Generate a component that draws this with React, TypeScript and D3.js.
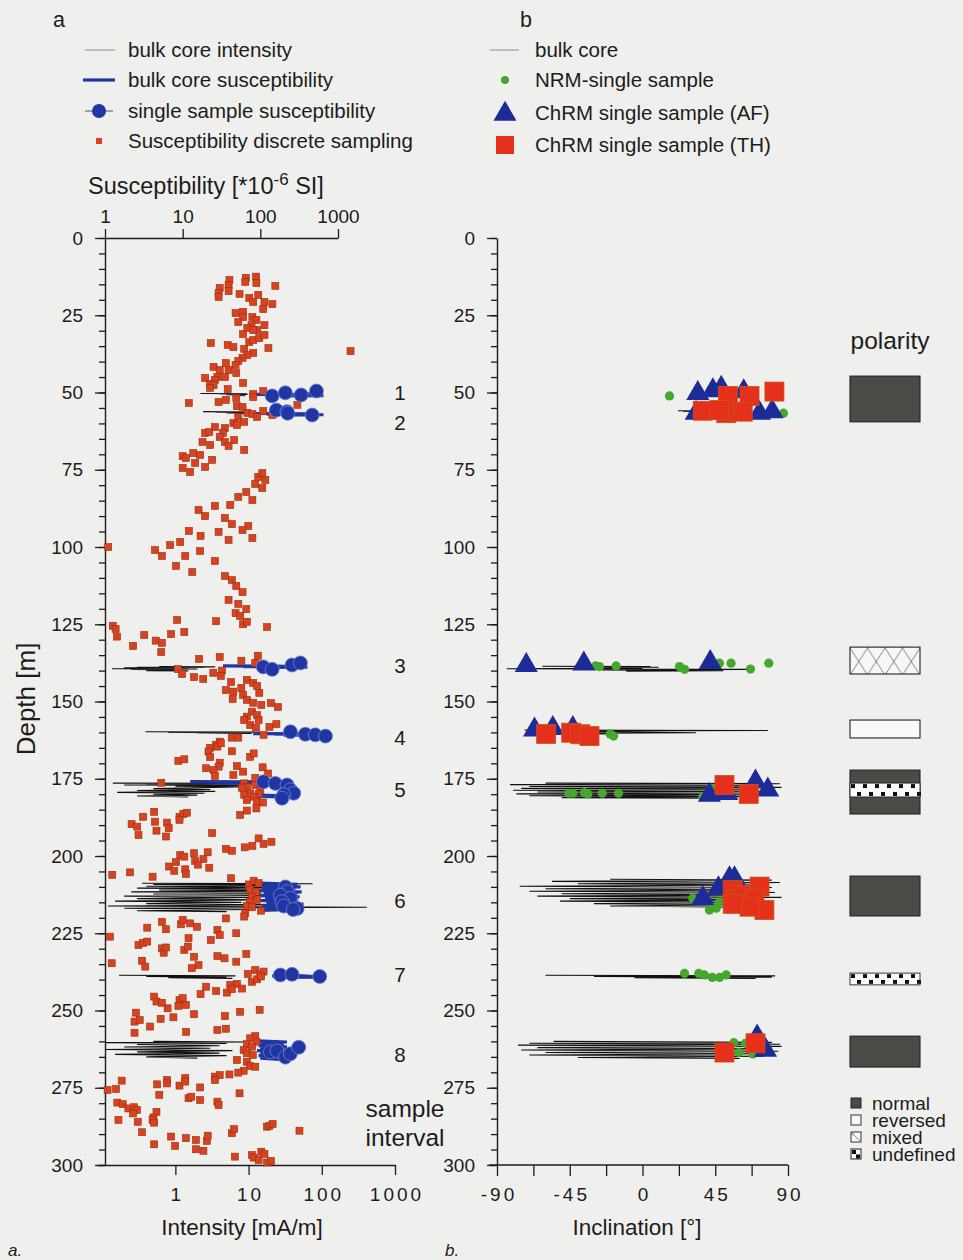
import React, { useEffect, useRef } from 'react';
import * as d3 from 'd3';

const W = 963;
const H = 1260;
const FONT = 'Liberation Sans, Arial, Helvetica, sans-serif';

// ---------- tick labels ----------
const depthMajor = [0, 25, 50, 75, 100, 125, 150, 175, 200, 225, 250, 275, 300];
const depthMinor = d3.range(0, 301, 5);
const suscTicks = [1, 10, 100, 1000];
const intensityTicks = [1, 10, 100, 1000];
const inclTicks = [-90, -67.5, -45, -22.5, 0, 22.5, 45, 67.5, 90];
const inclLabels = [-90, -45, 0, 45, 90];

// ---------- panel a: discrete susceptibility sampling [depth m, susceptibility 1e-6 SI] ----------
const discreteSusc: [number, number][] = [
  [12.5, 88], [12.9, 65], [13.6, 40], [15.2, 39], [16.2, 30], [17.8, 29], [19.1, 29], [17.2, 39], [14.2, 64], [14.6, 89],
  [15.5, 156], [18.1, 54], [19.4, 72], [18.4, 94], [20.7, 81], [20.7, 113], [21.4, 143], [23.0, 109], [24.3, 48], [23.9, 60],
  [25.6, 60], [27.2, 52], [25.6, 79], [26.5, 89], [28.2, 77], [28.2, 113], [29.1, 68], [29.8, 91], [31.1, 60], [29.8, 81],
  [33.7, 72], [33.0, 81], [32.4, 97], [31.4, 113], [34.0, 23], [34.6, 38], [35.3, 45], [35.9, 62], [37.2, 81], [35.6, 127],
  [36.6, 1450], [37.9, 68], [38.8, 59], [39.8, 52], [41.1, 48], [40.5, 36], [41.7, 25], [42.7, 30], [42.7, 39], [43.7, 49],
  [45.0, 35], [45.3, 19.5], [45.0, 28], [46.0, 26], [47.2, 22.6], [47.6, 25], [48.5, 22.6], [46.9, 60], [48.9, 38], [51.8, 49],
  [50.5, 81], [49.5, 109], [53.4, 12], [53.1, 29], [52.4, 36], [54.4, 50], [54.7, 59], [51.5, 81], [54.0, 300], [56.0, 109],
  [56.6, 68], [57.0, 79], [57.9, 91], [57.3, 143], [57.9, 52], [59.5, 62], [59.9, 45], [60.5, 50], [61.2, 26], [61.5, 35],
  [63.1, 19.5], [62.8, 22], [63.1, 33], [64.4, 30], [65.4, 46], [66.0, 35], [66.0, 18], [67.0, 22.6], [67.3, 39], [68.6, 62],
  [69.6, 13.7], [70.6, 10], [70.2, 16.8],
  [71.2, 11], [72.8, 14.5], [74.4, 10], [74.1, 19.5], [71.8, 24], [75.7, 12.5], [77.3, 94], [76.1, 106], [79.6, 86], [78.3, 116],
  [80.9, 106], [82.2, 66], [83.8, 52], [84.8, 79], [86.4, 41], [86.7, 26], [88.0, 16], [90.0, 19.5], [90.6, 35], [92.6, 43],
  [93.2, 70], [94.5, 59], [95.1, 29], [96.4, 17], [94.8, 12], [97.7, 39], [98.4, 9.3], [97.1, 79], [100, 1.1], [101, 4.4],
  [99.4, 6.9], [102.9, 5.4], [102.9, 10.8], [101.3, 16.8], [106.1, 8.2], [104.5, 26], [108.1, 13.3], [109.4, 35], [110.7, 43], [112.6, 49],
  [114.6, 59], [117.1, 39], [118.4, 52], [120.1, 66], [121.4, 48], [122.3, 55],
  [125.5, 1.26], [126.5, 1.37], [129, 1.43], [132, 2.3], [128.5, 3.2], [130.3, 4.5], [131, 5.4], [134, 5.3], [128.2, 7.1], [127.5, 10.5],
  [123.6, 8.5], [124, 27], [125, 60], [124.2, 67], [125.9, 122], [136.2, 16.3], [135.6, 30], [136.8, 57], [135.2, 93], [137.5, 86],
  [139.5, 8.7], [141.1, 9.8], [142.1, 14], [142.7, 18.4], [140.7, 24.8], [140, 32], [141.7, 31], [143.7, 42], [143, 67], [144, 81],
  [145, 91], [146.3, 36], [146.8, 45], [145.6, 57], [147.2, 97], [149.2, 44], [147.9, 60], [149.5, 67], [150.4, 81], [151.1, 103],
  [150.5, 137], [151.8, 169], [153.3, 78], [154.9, 67], [154.4, 91], [156, 95], [156, 62], [157.6, 74], [158.5, 88], [158.2, 131],
  [157.3, 161], [160.8, 110], [161.7, 43], [161.7, 52], [163, 30], [164, 27], [165, 22.6], [164.6, 28], [163.5, 31], [166.2, 21.5],
  [168, 22.6], [166.1, 43], [167.9, 74], [166.8, 82], [169.2, 8.8], [168.7, 10.5], [169.8, 30], [171.1, 29], [171.6, 20], [170.9, 50],
  [172.7, 60], [172.2, 25], [174.1, 26], [173.8, 45], [171.3, 107], [173.3, 126], [174.7, 86], [176.3, 5.3], [176.5, 62], [177.6, 67],
  [177.9, 58], [177, 86], [178.6, 100], [179.7, 74], [179.9, 95], [180.2, 62], [180.8, 82], [181.9, 67], [182.4, 91], [182.7, 108],
  [184.6, 89], [185.3, 67], [186.7, 55], [185.7, 4.3], [187.3, 3.1], [187.3, 9.1], [186.4, 10.2], [186, 11.3],
  [189.7, 2.2], [190.5, 2.6], [193.2, 2.7], [188.9, 4.4], [191.8, 4.6], [189.2, 6.3], [191, 6.6], [193.7, 6.1], [188.3, 9.1], [192.6, 24],
  [197.7, 36], [198.3, 43], [197.2, 63], [196.7, 79], [194.3, 95], [196.1, 110], [195.4, 139], [199.7, 9.3], [200.2, 10.5], [199.1, 14],
  [198.8, 21], [201.6, 14.5], [201, 18.5], [202.8, 15.7], [202, 8.2], [203.4, 6.7], [204.8, 7.8], [204.3, 10.8], [205.8, 11], [203.8, 22],
  [206.1, 1.24], [205.3, 2.1], [206.7, 4.1], [207.2, 42], [209.2, 71], [208, 82], [208.8, 95], [211, 74], [211.6, 88], [213.2, 78],
  [214.2, 91], [214.8, 73], [216.2, 67], [216.6, 78], [217.7, 102], [218.5, 64], [219.6, 62], [220.2, 36], [221.3, 5.4], [223.7, 6.1],
  [223.2, 3.5], [222.1, 9.5], [220.7, 10], [221.8, 12.5], [222.9, 15.3], [223.9, 28], [225.6, 30], [225, 49], [226.1, 1.16], [228.8, 2.7],
  [228.1, 3.1], [227.7, 3.5], [229.9, 5.4], [231.3, 5.7], [229.6, 6.1], [230.4, 10.5], [229.3, 11.7], [226.6, 11.9], [227.2, 23], [232.6, 14],
  [235.3, 16], [236.3, 13.1], [232.4, 28], [233.1, 34.6], [234.2, 49], [231.7, 66], [234.7, 1.22], [233.9, 3.0], [235.8, 3.3], [238.2, 69],
  [236.9, 86], [238.2, 100], [237.4, 110], [240.7, 78], [239.9, 91], [239, 102], [242.3, 20], [243.7, 27], [244.2, 37], [241.7, 41],
  [241.4, 50], [243.1, 43], [242.9, 58], [244.7, 17], [245.5, 4.3], [247.1, 4.6], [247.5, 5.4], [249.3, 6.4], [246.6, 9.1], [246, 10],
  [248.5, 8.8], [248.2, 11], [250.7, 2.5], [253.6, 2.4], [253.1, 2.8], [255.2, 3.8], [252.7, 5.2], [252.2, 7.6], [251.2, 14], [251.8, 35],
  [250.4, 55], [249.8, 98], [257.2, 2.4], [256.9, 11.1], [256.3, 28], [255.9, 36], [258.3, 86], [259, 74], [260.1, 89], [260.9, 67],
  [261.7, 78], [262.8, 61], [263.9, 67], [264.4, 80], [266, 50], [266.6, 67], [268, 74], [268.2, 86], [269.5, 61], [270.1, 52],
  [271.4, 26], [270.9, 30], [270.7, 40], [271.9, 10.8], [272.5, 6.3],
  [275.7, 1.08], [275.4, 1.39], [272.7, 1.64], [273.9, 4.7], [273.6, 6.3], [274.3, 9.1], [273, 10.8], [274.9, 16.8], [277.3, 5.0], [278.4, 11.9],
  [277.9, 12.9], [279, 16.8], [272.5, 26], [279.5, 28], [280.6, 29], [276.8, 54], [279.8, 1.44], [280.3, 1.69], [281.7, 2.0], [281.3, 2.37],
  [282.2, 2.57], [283.3, 2.3], [282.8, 4.6], [284.6, 4.2], [285.4, 4.1], [286.3, 4.3], [285.4, 1.49], [286, 2.64], [289.4, 3.0], [293.3, 4.3],
  [290.8, 7.1], [293.8, 8.0], [291.3, 11], [291.9, 14.8], [294.9, 14.8], [295.4, 18.5], [292.2, 20.5], [290.5, 21], [289.7, 43], [288.4, 46],
  [297.3, 47], [296.8, 78], [297.6, 82], [298.4, 95], [295.7, 103], [296.4, 113], [299.2, 122], [298.7, 137], [287.6, 122], [287.3, 131],
  [286.7, 144], [288.9, 319],
];

// ---------- panel a: bulk core intensity per sample interval [depth, mA/m] ----------
const intensity1: [number, number][] = [[50.3, 2.2], [50.4, 9.5], [50.5, 4], [50.6, 9.7], [50.7, 5], [50.8, 8], [50.9, 6], [51.0, 9]];
const intensity2: [number, number][] = [[56.2, 2.4], [56.3, 10], [56.4, 3.5], [56.5, 10.6], [56.6, 5], [56.7, 9], [56.8, 6.5], [56.9, 10]];
const intensity3: [number, number][] = [[138.7, 0.6], [138.8, 3.5], [138.9, 0.3], [139.0, 2.5], [139.1, 0.2], [139.3, 1.5], [139.4, 0.136], [139.5, 2], [139.6, 0.25], [139.8, 1.2], [140.0, 0.4], [140.1, 1.5]];
const intensity4: [number, number][] = [[159.8, 0.39], [159.9, 11.7], [160.0, 0.8], [160.1, 10], [160.2, 2], [160.3, 11]];
const intensity5: [number, number][] = [[176.4, 0.14], [176.5, 10.6], [176.6, 0.4], [176.8, 9], [177.0, 0.2], [177.2, 8], [177.4, 1], [177.6, 10], [178.2, 0.5], [178.5, 3], [178.8, 0.3], [179.1, 3.5], [179.4, 0.16], [179.7, 2.5], [180.0, 0.5], [180.3, 2], [180.6, 0.3], [180.9, 1.5]];
const intensity6: [number, number][] = [[208.8, 0.35], [209.0, 75], [209.2, 0.5], [209.5, 30], [209.8, 0.4], [210.1, 50], [210.4, 0.3], [210.7, 20], [211.0, 0.6], [211.3, 40], [211.6, 0.25], [212.0, 15], [212.3, 0.5], [212.7, 25], [213.0, 0.2], [213.4, 12], [213.8, 0.3], [214.2, 20], [214.6, 0.15], [215.0, 8], [215.4, 0.4], [215.8, 30], [216.2, 0.12], [216.6, 413], [216.9, 0.2], [217.3, 10], [217.7, 0.3], [218.0, 5]];
const intensity7: [number, number][] = [[238.6, 0.17], [238.8, 6.6], [239.0, 0.4], [239.2, 5], [239.4, 0.8], [239.6, 6]];
const intensity8: [number, number][] = [[260.0, 0.5], [260.2, 9.7], [260.4, 0.11], [260.7, 5], [261.0, 0.3], [261.4, 4], [261.8, 0.2], [262.2, 3], [262.6, 0.11], [263.0, 6], [263.4, 0.3], [263.8, 4], [264.2, 0.15], [264.6, 5], [265.0, 0.4], [265.4, 2]];

// ---------- panel a: bulk core susceptibility [depth, 1e-6 SI] ----------
const bulkSusc1: [number, number][] = [[50.6, 81], [50.7, 450], [50.8, 150], [51.0, 650], [51.1, 200]];
const bulkSusc2: [number, number][] = [[56.8, 81], [56.9, 500], [57.0, 120], [57.2, 650], [57.3, 200]];
const bulkSusc3: [number, number][] = [[138.5, 33], [138.6, 300], [138.7, 60], [138.9, 404], [139.0, 100]];
const bulkSusc4: [number, number][] = [[160.4, 81], [160.5, 600], [160.6, 150], [160.8, 800], [160.9, 200]];
const bulkSusc5a: [number, number][] = [[175.9, 12.5], [176.0, 135], [176.1, 20], [176.3, 130], [176.4, 30]];
const bulkSusc5b: [number, number][] = [[180.3, 74], [180.5, 244], [180.7, 90], [180.9, 220]];
const bulkSusc6: [number, number][] = [[208.8, 100], [209.2, 300], [209.6, 110], [210.0, 330], [210.4, 105], [210.8, 280], [211.2, 100], [211.6, 340], [212.0, 110], [212.4, 300], [212.8, 100], [213.2, 320], [213.6, 115], [214.0, 290], [214.4, 100], [214.8, 310], [215.2, 120], [215.6, 360], [216.0, 105], [216.4, 300], [216.8, 110], [217.2, 330], [217.6, 100]];
const bulkSusc7: [number, number][] = [[238.8, 142], [239.0, 650], [239.1, 180], [239.3, 500]];
const bulkSusc8: [number, number][] = [[259.8, 91], [260.2, 220], [260.6, 100], [261.0, 200], [261.4, 95], [261.8, 220], [262.2, 100], [262.6, 210], [263.0, 91], [263.4, 220], [263.8, 100], [264.2, 200], [264.6, 95], [265.0, 215], [265.4, 100], [265.8, 180]];

// ---------- panel a: single sample susceptibility [depth, 1e-6 SI] ----------
const single1: [number, number][] = [[51.1, 142], [50.1, 210], [50.8, 335], [49.5, 528]];
const single2: [number, number][] = [[55.7, 161], [56.2, 220], [56.7, 225], [57.3, 465]];
const single3: [number, number][] = [[138.8, 109], [139.6, 142], [138.2, 256], [137.5, 328]];
const single4: [number, number][] = [[159.8, 244], [160.6, 380], [160.8, 510], [161.2, 690]];
const single5: [number, number][] = [[176, 110], [176.5, 156], [177, 221], [178.6, 244], [179.7, 269], [180.2, 200], [181.3, 190]];
const single6: [number, number][] = [[210, 210], [211.6, 221], [212.7, 181], [213.7, 244], [214.8, 190], [216.2, 200], [217, 298], [217.3, 264]];
const single7: [number, number][] = [[238.5, 181], [238.3, 256], [239, 582]];
const single8: [number, number][] = [[263.4, 135], [263.1, 164], [265.1, 210], [264, 244], [261.9, 312]];

// ---------- panel b: bulk core inclination [depth, deg] ----------
const incl1: [number, number][] = [[55.9, 22], [56.0, 48], [56.1, 25], [56.2, 45]];
const incl3: [number, number][] = [[138.6, -62], [138.7, 5], [138.8, -30], [138.9, 10], [139.0, -20], [139.2, 0], [139.4, -84], [139.6, 66], [139.8, -25], [140.0, 50], [140.2, -10]];
const incl4: [number, number][] = [[159.2, -73], [159.4, 77.5], [159.6, -70], [160.1, 33], [160.3, -60], [160.5, -20]];
const incl5: [number, number][] = [[176.4, -60], [176.6, 85], [176.9, -82], [177.2, 80], [177.5, -70], [177.8, 86], [178.1, -75], [178.4, 70], [178.7, -80], [179.0, 75], [179.3, -65], [179.6, 60], [179.9, -78], [180.2, 72], [180.5, -70], [180.8, 65], [181.1, -50], [181.3, 40]];
const incl6: [number, number][] = [[207.5, -20], [207.8, 80], [208.2, -56], [208.6, 85], [209.0, -40], [209.4, 75], [209.8, -76], [210.2, 80], [210.6, -60], [211.0, 70], [211.4, -70], [211.8, 82], [212.2, -50], [212.6, 75], [213.0, -65], [213.4, 86], [213.8, -45], [214.2, 70], [214.6, -51], [215.0, 78], [215.4, -30], [215.8, 65], [216.2, -20], [216.6, 60]];
const incl7: [number, number][] = [[238.6, -60], [238.8, 82], [239.0, -30], [239.2, 80], [239.4, -5], [239.6, 70]];
const incl8: [number, number][] = [[260.0, -55], [260.3, 80], [260.6, -70], [260.9, 85], [261.2, -77], [261.6, 86], [262.0, -65], [262.4, 80], [262.8, -75], [263.2, 84], [263.6, -60], [264.0, 78], [264.4, -70], [264.8, 75], [265.2, -40], [265.5, 60]];

// ---------- panel b: single samples [depth, inclination deg] ----------
const nrmSingle: [number, number][] = [
  [51.1, 16.7], [56.7, 87.2],
  [138.5, -29], [138.7, -26.6], [138.5, -16.3], [138.7, 22.9], [139.6, 26], [137.6, 47.6], [137.6, 54.8], [139.5, 66.8], [137.6, 78.1],
  [160.5, -20], [161.2, -17.9],
  [179.7, -45.6], [179.7, -43.1], [179.5, -35.9], [179.9, -33.8], [179.7, -24.9], [179.7, -14.8], [180.8, 37.3], [178.1, 42.5],
  [213.7, 31.1], [217.5, 41.4], [216.9, 45.6], [214.8, 47.6],
  [238, 26], [238, 34.8], [238.5, 38.3], [239.3, 43.1], [239.3, 47.6], [238.5, 51.8],
  [260.4, 56.5], [263.6, 59.6], [260.6, 63.7], [264.1, 68.2],
];
const chrmAF: [number, number][] = [
  [50.3, 34.2], [49.4, 43.5], [48.6, 48.7], [49.7, 62.6], [56.7, 72.4], [56.2, 80.2], [56.7, 33.2],
  [138.3, -71.9], [137.8, -36.3], [137.3, 41.9],
  [159.2, -66.8], [158.7, -55.5], [158.7, -43.1],
  [180.3, 41.4], [179.7, 52.1], [176, 69.9], [178.6, 77.5],
  [213.7, 37.3], [210.5, 47], [207.3, 53.8], [207.3, 56.9],
  [262.8, 76.1], [258.5, 70.9],
];
const chrmTH: [number, number][] = [
  [51.1, 52.8], [51.1, 66.2], [49.7, 81.6], [55.9, 37.3], [56.7, 51.8], [56.2, 62], [55.7, 47.6],
  [160.5, -59.6], [160.1, -44.1], [160.6, -38.5], [161.2, -32.8],
  [177.0, 50.7], [179.9, 65.7],
  [211, 55.8], [214.2, 57.9], [212.6, 63.1], [209.9, 72.4], [213.7, 69.3], [217.5, 75.4], [216.4, 66.2], [215.5, 55.8],
  [263.6, 50.7], [260.6, 69.9],
];

// ---------- polarity zones [top depth, bottom depth, type] ----------
const polarityZones: [number, number, string][] = [
  [44.7, 59.5, 'normal'],
  [132.4, 141.1, 'mixed'],
  [156, 161.8, 'reversed'],
  [172.2, 186.4, 'normal'],
  [176.4, 180.9, 'undefined'],
  [206.5, 219.4, 'normal'],
  [237.9, 241.7, 'undefined'],
  [258.3, 268.3, 'normal'],
];
const polarityLegend = ['normal', 'reversed', 'mixed', 'undefined'];

// ---------- sample interval labels [label, depth] ----------
const intervalLabels: [string, number][] = [
  ['1', 50.2], ['2', 59.9], ['3', 138.5], ['4', 161.8], ['5', 178.6], ['6', 214.6], ['7', 238.5], ['8', 264.4],
];

const C = {
  bg: '#efefed',
  ink: '#1c1c1c',
  red: '#d8431f',
  redEdge: '#9a2e12',
  blue: '#2036a3',
  blueEdge: '#6f82d6',
  triBlue: '#1d2b98',
  bigRed: '#e5301c',
  green: '#43a82c',
  normal: '#4a4b47',
};

export default function App() {
  const ref = useRef<SVGSVGElement>(null);

  useEffect(() => {
    const svg = d3.select(ref.current);
    svg.selectAll('*').remove();

    svg.append('rect').attr('width', W).attr('height', H).attr('fill', C.bg);

    const defs = svg.append('defs');
    const mixed = defs.append('pattern').attr('id', 'mixedPat').attr('patternUnits', 'userSpaceOnUse')
      .attr('x', 850).attr('y', 0).attr('width', 17.5).attr('height', 27);
    mixed.append('rect').attr('width', 17.5).attr('height', 27).attr('fill', '#f7f7f5');
    mixed.append('path').attr('d', 'M0,0 L17.5,27 M17.5,0 L0,27').attr('stroke', '#777').attr('stroke-width', 0.9);

    const y = d3.scaleLinear().domain([0, 300]).range([238, 1165]);
    const xSusc = d3.scaleLog().domain([1, 1000]).range([105, 338]);
    const xInt = d3.scaleLog().domain([0.085, 1000]).range([97, 395]);
    const xInc = d3.scaleLinear().domain([-90, 90]).range([497, 788]);

    const text = (x: number, yy: number, s: string, size: number, anchor = 'start', extra: any = {}) => {
      const t = svg.append('text').attr('x', x).attr('y', yy).text(s)
        .attr('font-family', FONT).attr('font-size', size).attr('fill', C.ink).attr('text-anchor', anchor);
      Object.entries(extra).forEach(([k, v]) => t.attr(k, v as any));
      return t;
    };

    const styleAxis = (g: any) => {
      g.select('.domain').attr('stroke', C.ink).attr('stroke-width', 1.4);
      g.selectAll('.tick line').attr('stroke', C.ink).attr('stroke-width', 1.3);
      g.selectAll('.tick text').attr('font-family', FONT).attr('font-size', 19).attr('fill', C.ink);
    };

    // ---------------- Y axes (both panels) ----------------
    [105, 497].forEach((ax) => {
      const gMinor = svg.append('g').attr('transform', `translate(${ax},0)`)
        .call(d3.axisLeft(y).tickValues(depthMinor).tickSize(6).tickSizeOuter(0).tickFormat(() => ''));
      styleAxis(gMinor);
      const gMajor = svg.append('g').attr('transform', `translate(${ax},0)`)
        .call(d3.axisLeft(y).tickValues(depthMajor).tickSize(10).tickSizeOuter(0).tickPadding(12).tickFormat(d3.format('d')));
      styleAxis(gMajor);
      gMajor.select('.domain').remove();
    });

    // top susceptibility axis
    const gTop = svg.append('g').attr('transform', 'translate(0,238)')
      .call(d3.axisTop(xSusc).tickValues(suscTicks).tickSize(9).tickSizeOuter(0).tickPadding(6).tickFormat(d3.format('d')));
    styleAxis(gTop);

    // bottom intensity axis
    const gBot = svg.append('g').attr('transform', 'translate(0,1165)')
      .call(d3.axisBottom(xInt).tickValues(intensityTicks).tickSize(10).tickSizeOuter(0).tickPadding(13).tickFormat(d3.format('d')));
    styleAxis(gBot);
    gBot.selectAll('.tick text').attr('letter-spacing', 3).attr('dx', 1.5);

    // bottom inclination axis
    const gInc = svg.append('g').attr('transform', 'translate(0,1165)')
      .call(d3.axisBottom(xInc).tickValues(inclTicks).tickSize(11).tickSizeOuter(0).tickPadding(12)
        .tickFormat((d: any) => (inclLabels.includes(d) ? String(d) : '')));
    styleAxis(gInc);
    gInc.select('.domain').attr('d', `M${xInc(-90) - 8},0H${xInc(90)}`);
    gInc.selectAll('.tick text').attr('letter-spacing', 3).attr('dx', 1.5);

    // axis titles
    const st = text(88, 194, 'Susceptibility [*10', 23.5);
    st.append('tspan').attr('dy', -9).attr('font-size', 17).text('-6');
    st.append('tspan').attr('dy', 9).text(' SI]');
    text(242, 1235, 'Intensity [mA/m]', 22.5, 'middle');
    text(637, 1235, 'Inclination [°]', 22.5, 'middle');
    text(0, 0, 'Depth [m]', 26, 'middle', { transform: 'translate(35,699) rotate(-90)' });
    text(8, 1256, 'a.', 17, 'start', { 'font-style': 'italic' });
    text(445, 1256, 'b.', 17, 'start', { 'font-style': 'italic' });

    // ---------------- Panel a data ----------------
    const lineInt = d3.line<[number, number]>().x((d) => xInt(d[1])).y((d) => y(d[0]));
    const lineSusc = d3.line<[number, number]>().x((d) => xSusc(d[1])).y((d) => y(d[0]));
    const lineInc = d3.line<[number, number]>().x((d) => xInc(d[1])).y((d) => y(d[0]));

    [intensity1, intensity2, intensity3, intensity4, intensity5, intensity6, intensity7, intensity8].forEach((arr) => {
      svg.append('path').attr('d', lineInt(arr)).attr('fill', 'none').attr('stroke', '#111').attr('stroke-width', 1.1);
    });
    [bulkSusc1, bulkSusc2, bulkSusc3, bulkSusc4, bulkSusc5a, bulkSusc5b, bulkSusc6, bulkSusc7, bulkSusc8].forEach((arr) => {
      svg.append('path').attr('d', lineSusc(arr)).attr('fill', 'none').attr('stroke', C.blue).attr('stroke-width', 3.2);
    });

    svg.append('g').selectAll('rect').data(discreteSusc).join('rect')
      .attr('x', (d) => xSusc(d[1]) - 3.5).attr('y', (d) => y(d[0]) - 3.5)
      .attr('width', 7).attr('height', 7)
      .attr('fill', C.red).attr('stroke', C.redEdge).attr('stroke-width', 0.6);

    [single1, single2, single3, single4, single5, single6, single7, single8].forEach((arr) => {
      svg.append('path').attr('d', lineSusc(arr)).attr('fill', 'none').attr('stroke', C.blue).attr('stroke-width', 1.6);
      svg.append('g').selectAll('circle').data(arr).join('circle')
        .attr('cx', (d) => xSusc(d[1])).attr('cy', (d) => y(d[0])).attr('r', 7)
        .attr('fill', C.blue).attr('stroke', C.blueEdge).attr('stroke-width', 0.8);
    });

    intervalLabels.forEach(([lab, dep]) => {
      text(400, y(dep), lab, 20.5, 'middle', { dy: '0.35em' });
    });
    text(405, 1117, 'sample', 24.5, 'middle');
    text(405, 1146, 'interval', 24.5, 'middle');

    // ---------------- Panel b data ----------------
    [incl1, incl3, incl4, incl5, incl6, incl7, incl8].forEach((arr) => {
      svg.append('path').attr('d', lineInc(arr)).attr('fill', 'none').attr('stroke', '#111').attr('stroke-width', 1.1);
    });
    svg.append('g').selectAll('circle').data(nrmSingle).join('circle')
      .attr('cx', (d) => xInc(d[1])).attr('cy', (d) => y(d[0])).attr('r', 4.6).attr('fill', C.green);
    const tri = d3.symbol().type(d3.symbolTriangle).size(230);
    svg.append('g').selectAll('path').data(chrmAF).join('path')
      .attr('d', tri as any).attr('transform', (d) => `translate(${xInc(d[1])},${y(d[0])})`)
      .attr('fill', C.triBlue);
    svg.append('g').selectAll('rect').data(chrmTH).join('rect')
      .attr('x', (d) => xInc(d[1]) - 9.5).attr('y', (d) => y(d[0]) - 9.5).attr('width', 19).attr('height', 19)
      .attr('fill', C.bigRed).attr('stroke', '#c8561a').attr('stroke-width', 0.8);

    // ---------------- Polarity column ----------------
    text(890, 349, 'polarity', 24.5, 'middle');
    const px = 850, pw = 70;
    const drawUndefined = (y0: number, y1: number, x0: number, w: number) => {
      svg.append('rect').attr('x', x0).attr('y', y0).attr('width', w).attr('height', y1 - y0).attr('fill', '#fbfbfb');
      const h = y1 - y0;
      const cells = d3.range(x0, x0 + w - 1, 12);
      cells.forEach((cx) => {
        svg.append('rect').attr('x', cx + 1).attr('y', y0 + 1).attr('width', 4).attr('height', Math.min(4, h / 3)).attr('fill', '#111');
        svg.append('rect').attr('x', cx + 7).attr('y', y1 - 1 - Math.min(4, h / 3)).attr('width', 4).attr('height', Math.min(4, h / 3)).attr('fill', '#111');
      });
    };
    polarityZones.forEach(([top, bot, type]) => {
      const y0 = y(top), y1 = y(bot);
      if (type === 'undefined') {
        drawUndefined(y0, y1, px, pw);
        svg.append('rect').attr('x', px).attr('y', y0).attr('width', pw).attr('height', y1 - y0)
          .attr('fill', 'none').attr('stroke', '#222').attr('stroke-width', 0.9);
        return;
      }
      const fill = type === 'normal' ? C.normal : type === 'reversed' ? '#f9f9f7' : 'url(#mixedPat)';
      svg.append('rect').attr('x', px).attr('y', y0).attr('width', pw).attr('height', y1 - y0)
        .attr('fill', fill).attr('stroke', '#222').attr('stroke-width', 1.1);
    });

    // polarity legend
    polarityLegend.forEach((name, i) => {
      const cy = 1103 + i * 17;
      const bx = 851, bs = 10;
      if (name === 'normal') {
        svg.append('rect').attr('x', bx).attr('y', cy - 5).attr('width', bs).attr('height', bs).attr('fill', C.normal).attr('stroke', '#222');
      } else if (name === 'reversed') {
        svg.append('rect').attr('x', bx).attr('y', cy - 5).attr('width', bs).attr('height', bs).attr('fill', '#f9f9f7').attr('stroke', '#333');
      } else if (name === 'mixed') {
        svg.append('rect').attr('x', bx).attr('y', cy - 5).attr('width', bs).attr('height', bs).attr('fill', '#f9f9f7').attr('stroke', '#333');
        svg.append('path').attr('d', `M${bx},${cy - 5}L${bx + bs},${cy + 5}M${bx + 3},${cy - 5}L${bx},${cy - 1}`).attr('stroke', '#666').attr('stroke-width', 0.8);
      } else {
        svg.append('rect').attr('x', bx).attr('y', cy - 5).attr('width', bs).attr('height', bs).attr('fill', '#f9f9f7').attr('stroke', '#222');
        svg.append('rect').attr('x', bx + 1).attr('y', cy - 4).attr('width', 4).attr('height', 4).attr('fill', '#111');
        svg.append('rect').attr('x', bx + 5).attr('y', cy + 0.5).attr('width', 4).attr('height', 4).attr('fill', '#111');
      }
      text(872, cy, name, 19, 'start', { dy: '0.35em' });
    });

    // ---------------- Legends ----------------
    text(53, 27, 'a', 21.5);
    text(520, 27, 'b', 21.5);

    const lgA = [50, 80, 111, 141];
    svg.append('line').attr('x1', 85).attr('x2', 115).attr('y1', lgA[0]).attr('y2', lgA[0]).attr('stroke', '#8a8a8a').attr('stroke-width', 1);
    svg.append('line').attr('x1', 83).attr('x2', 115).attr('y1', lgA[1]).attr('y2', lgA[1]).attr('stroke', C.blue).attr('stroke-width', 3.2);
    svg.append('line').attr('x1', 85).attr('x2', 113).attr('y1', lgA[2]).attr('y2', lgA[2]).attr('stroke', '#555').attr('stroke-width', 1);
    svg.append('circle').attr('cx', 99).attr('cy', lgA[2]).attr('r', 7).attr('fill', C.blue);
    svg.append('rect').attr('x', 96).attr('y', lgA[3] - 3).attr('width', 6).attr('height', 6).attr('fill', C.red);
    ['bulk core intensity', 'bulk core susceptibility', 'single sample susceptibility', 'Susceptibility discrete sampling']
      .forEach((s, i) => text(128, lgA[i], s, 20.5, 'start', { dy: '0.35em' }));

    const lgB = [50, 80, 113, 145];
    svg.append('line').attr('x1', 490).attr('x2', 519).attr('y1', lgB[0]).attr('y2', lgB[0]).attr('stroke', '#8a8a8a').attr('stroke-width', 1);
    svg.append('circle').attr('cx', 505).attr('cy', lgB[1]).attr('r', 4).attr('fill', C.green);
    svg.append('path').attr('d', tri as any).attr('transform', `translate(505,${lgB[2] + 1})`).attr('fill', C.triBlue);
    svg.append('rect').attr('x', 496).attr('y', lgB[3] - 9).attr('width', 18).attr('height', 18).attr('fill', C.bigRed);
    ['bulk core', 'NRM-single sample', 'ChRM single sample (AF)', 'ChRM single sample (TH)']
      .forEach((s, i) => text(535, lgB[i], s, 20.5, 'start', { dy: '0.35em' }));
  }, []);

  return <svg ref={ref} width={W} height={H} style={{ position: 'absolute', left: 0, top: 0, display: 'block' }} />;
}
